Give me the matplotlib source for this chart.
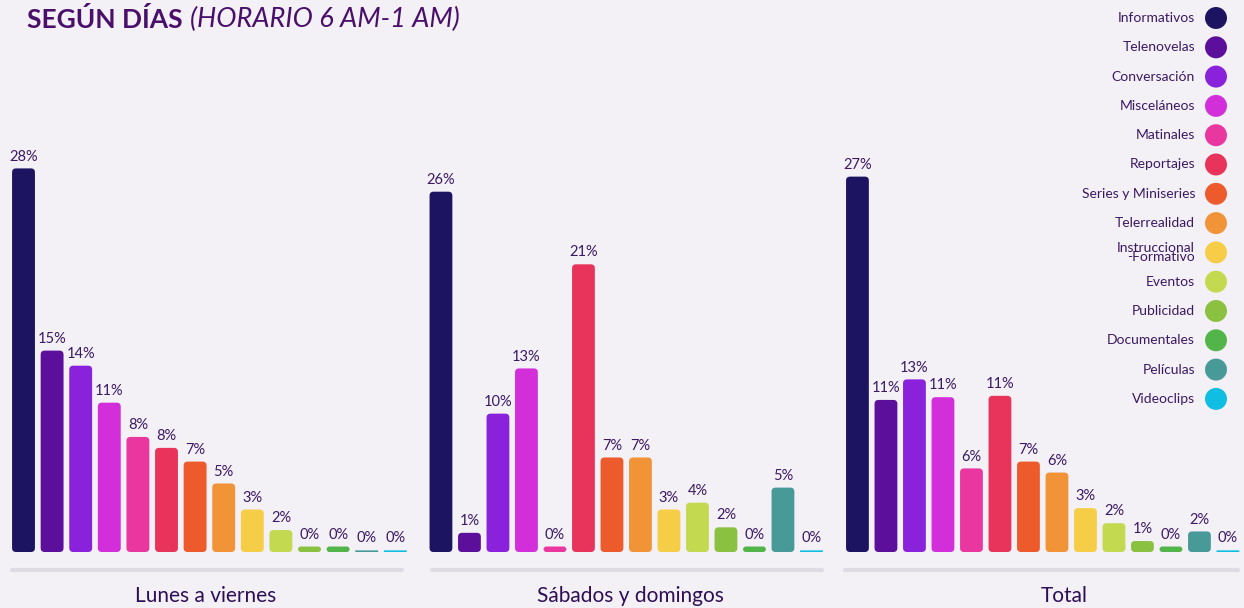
import matplotlib.pyplot as plt
from matplotlib.patches import FancyBboxPatch
import numpy as np

plt.rcParams['font.family'] = ['Lato', 'DejaVu Sans']

categorias = ['Informativos', 'Telenovelas', 'Conversación', 'Misceláneos', 'Matinales',
              'Reportajes', 'Series y Miniseries', 'Telerrealidad', 'Instruccional\n-Formativo',
              'Eventos', 'Publicidad', 'Documentales', 'Películas', 'Videoclips']
colores = ['#1d1461', '#5b0f9b', '#8a22db', '#d22fdb', '#e9379f', '#e8345a', '#ed5a2b',
           '#f09437', '#f6cd46', '#c3d94f', '#8bc140', '#52b549', '#489a99', '#10bde3']

grupos = ['Lunes a viernes', 'Sábados y domingos', 'Total']
lunes_viernes = [28.0, 14.7, 13.6, 10.9, 8.4, 7.6, 6.6, 5.0, 3.1, 1.6, 0.4, 0.4, 0.12, 0.12]
sabado_domingo = [26.3, 1.4, 10.1, 13.4, 0.4, 21.0, 6.9, 6.9, 3.1, 3.6, 1.8, 0.4, 4.7, 0.12]
total = [27.4, 11.1, 12.6, 11.3, 6.1, 11.4, 6.6, 5.8, 3.2, 2.1, 0.8, 0.4, 1.5, 0.12]
series = [lunes_viernes, sabado_domingo, total]

bg = '#f3f0f6'
texto = '#3b1a62'
W, H = 1244, 608
fig = plt.figure(figsize=(W / 100, H / 100), dpi=100, facecolor=bg)

# axes placement in pixels (left, width)
ejes_px = [(9.2, 400.4), (426.7, 399.0), (843.2, 399.0)]
base_px = 552
px_por_pct = 13.7
ymax = 30

for (left, width), vals in zip(ejes_px, series):
    ax = fig.add_axes([left / W, (H - base_px) / H, width / W, ymax * px_por_pct / H])
    ax.set_facecolor('none')
    ax.set_xlim(-0.5, 13.5)
    ax.set_ylim(0, ymax)
    ax.axis('off')
    x = np.arange(len(vals))
    barras = ax.bar(x, vals, width=0.8, color=colores, alpha=0)
    px_x = width / 14.0
    aspect = (1 / px_por_pct) / (1 / px_x)
    for b, v, c in zip(barras, vals, colores):
        h_px = v * px_por_pct
        if h_px < 3:
            r_px = 0
        else:
            r_px = min(4.0, h_px / 2)
        r = r_px / px_x
        p = FancyBboxPatch((b.get_x(), 0), b.get_width(), v,
                           boxstyle=f'round,pad=0,rounding_size={r}',
                           mutation_aspect=aspect, fc=c, ec='none')
        ax.add_patch(p)
        ax.annotate(f'{v:.0f}%', (b.get_x() + b.get_width() / 2, v),
                    xytext=(0, 3.5), textcoords='offset points',
                    ha='center', va='bottom', fontsize=10.5, color=texto)

# overlay in pixel coordinates for decoration
ov = fig.add_axes([0, 0, 1, 1])
ov.set_xlim(0, W)
ov.set_ylim(H, 0)
ov.axis('off')
ov.set_facecolor('none')

lineas = [(12, 402), (432, 822), (845, 1238)]
centros = [206, 630, 1064]
for (a, b), cx, g in zip(lineas, centros, grupos):
    ov.plot([a, b], [570, 570], color='#dfdbe4', lw=3, solid_capstyle='round')
    ov.text(cx, 596, g, ha='center', va='center', fontsize=15, color='#2e0f55')

# title
t1 = ov.text(27, 19, 'SEGÚN DÍAS', ha='left', va='center', fontsize=19,
             fontweight='bold', color='#4a0f6b')
fig.canvas.draw()
bb = t1.get_window_extent()
ov.text(bb.x1 + 7, 19, '(HORARIO 6 AM-1 AM)', ha='left', va='center', fontsize=19.5,
        fontstyle='italic', fontweight='normal', color='#4a0f6b')

# legend
y0, dy = 18, 29.3
for i, (cat, c) in enumerate(zip(categorias, colores)):
    y = y0 + i * dy
    ov.scatter([1216], [y], s=250, color=c, edgecolors='none')
    ov.text(1195, y, cat, ha='right', va='center', fontsize=10, color='#3b1a62',
            linespacing=0.75)

fig.savefig('out.png', dpi=100, facecolor=bg)
